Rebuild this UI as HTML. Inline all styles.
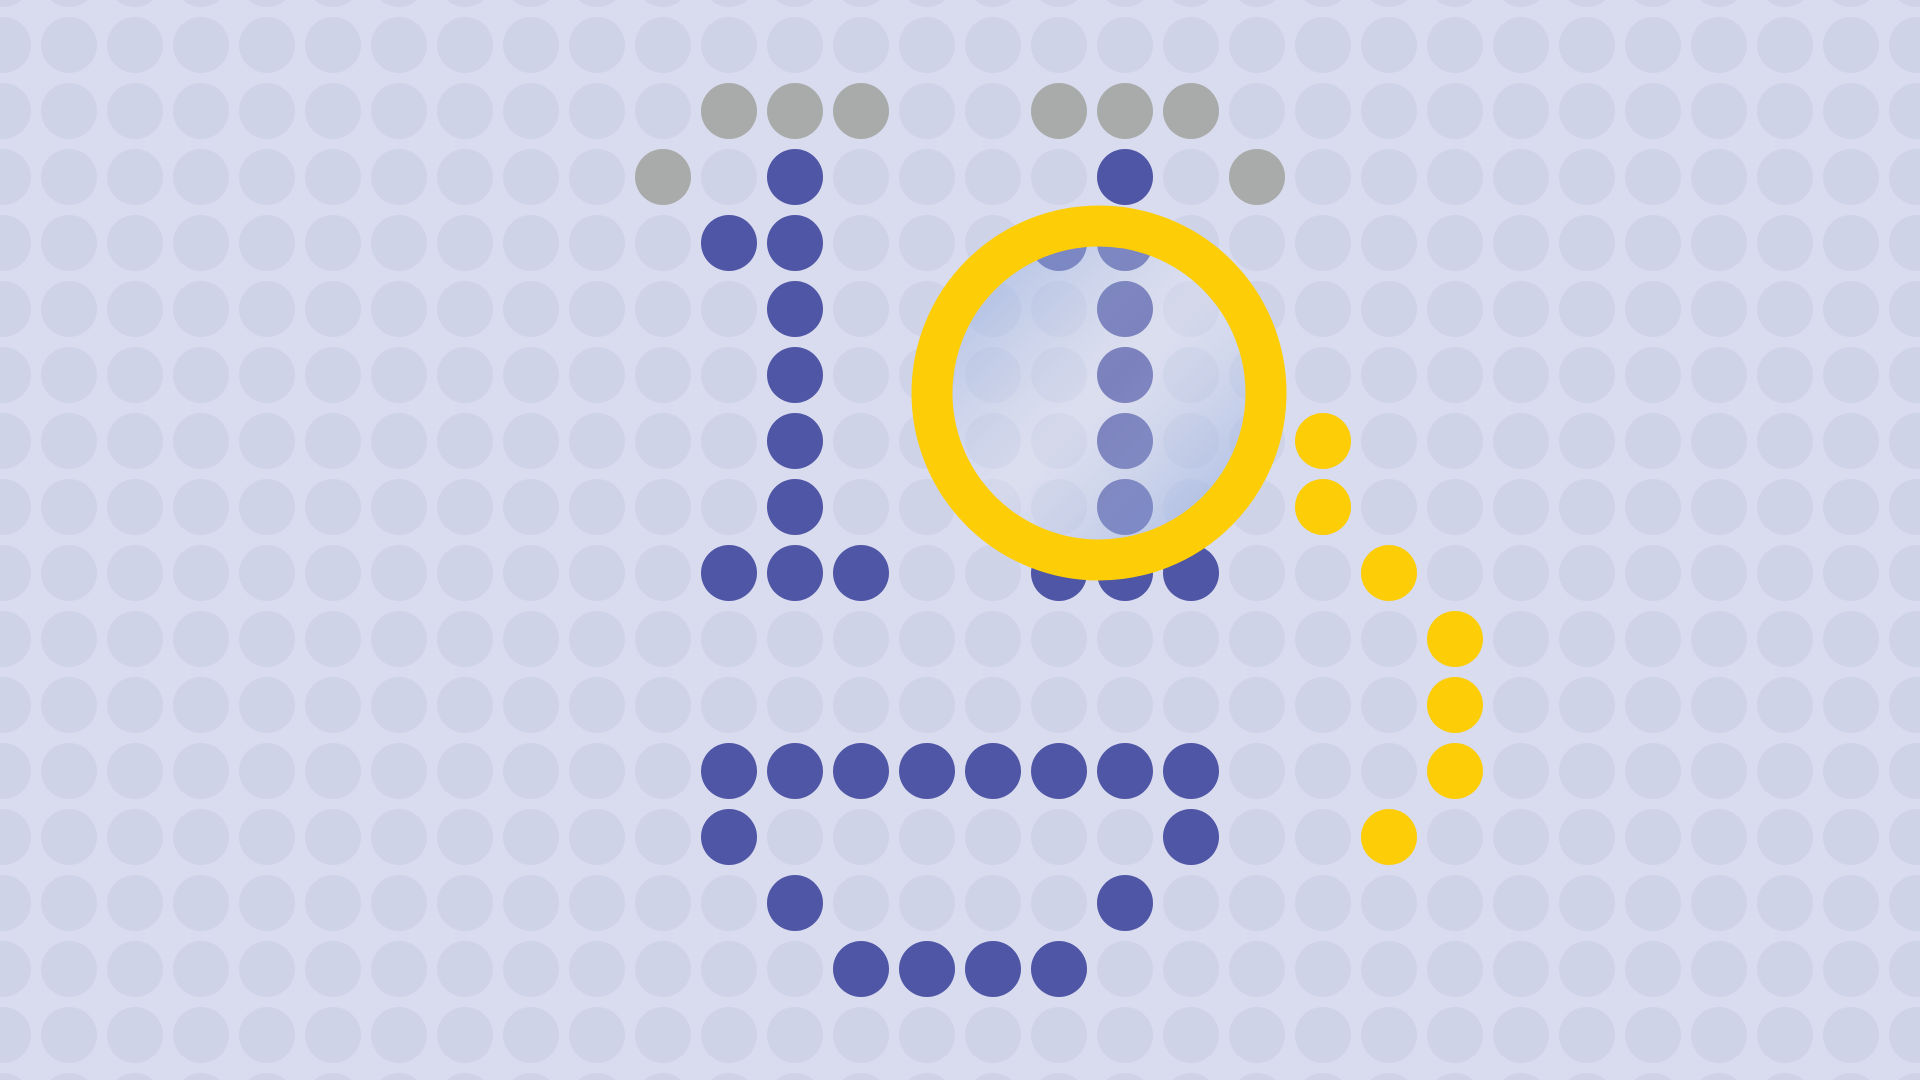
<!DOCTYPE html>
<html><head><meta charset="utf-8"><style>
html,body{margin:0;padding:0;background:#d9dcee;overflow:hidden}
svg{display:block}
</style></head><body>
<svg id="chart" width="1920" height="1080" viewBox="0 0 1920 1080" xmlns="http://www.w3.org/2000/svg">
<defs>
<linearGradient id="lensGrad" x1="0" y1="0" x2="1" y2="1">
<stop offset="0" stop-color="#86a3db" stop-opacity="0.6"/>
<stop offset="0.5" stop-color="#e2e4f0" stop-opacity="0.3"/>
<stop offset="1" stop-color="#86a3db" stop-opacity="0.65"/>
</linearGradient>
</defs>
<rect x="0" y="0" width="1920" height="1080" fill="#d9dcee"/>
<g id="bgDots"></g>
<g id="marks"></g>
<g id="lens"></g>
</svg>
<script>
const greyCols=[11,12,13,16,17,18,10,19];
const greyRows=[1,1,1,1,1,1,2,2];
const blueCols=[12,11,12,12,12,12,12,11,12,13, 17,16,17,17,17,17,17,16,17,18, 11,12,13,14,15,16,17,18,11,18,12,17,13,14,15,16];
const blueRows=[2,3,3,4,5,6,7,8,8,8, 2,3,3,4,5,6,7,8,8,8, 11,11,11,11,11,11,11,11,12,12,13,13,14,14,14,14];
const yellowCols=[20,20,21,22,22,22,21];
const yellowRows=[6,7,8,9,10,11,12];
const NS="http://www.w3.org/2000/svg";
const X=c=>3+66*c, Y=r=>45+66*r, R=28;
function dot(g,c,r,fill,name){
  const e=document.createElementNS(NS,'circle');
  e.setAttribute('cx',X(c));e.setAttribute('cy',Y(r));e.setAttribute('r',R);e.setAttribute('fill',fill);
  
  
  g.appendChild(e);
}
const bg=document.getElementById('bgDots');
for(let r=-1;r<=16;r++)for(let c=0;c<=29;c++)dot(bg,c,r,'#ced3e8','grid-dot');
const mk=document.getElementById('marks');
greyCols.forEach((c,i)=>dot(mk,c,greyRows[i],'#a9abaa','grey-dot'));
blueCols.forEach((c,i)=>dot(mk,c,blueRows[i],'#4f56a6','blue-dot'));
yellowCols.forEach((c,i)=>dot(mk,c,yellowRows[i],'#fdcd07','yellow-dot'));
const lens=document.getElementById('lens');
const glass=document.createElementNS(NS,'circle');
glass.setAttribute('cx',1099);glass.setAttribute('cy',393);glass.setAttribute('r',147);glass.setAttribute('fill','url(#lensGrad)');


lens.appendChild(glass);
const ring=document.createElementNS(NS,'circle');
ring.setAttribute('cx',1099);ring.setAttribute('cy',393);ring.setAttribute('r',167);ring.setAttribute('fill','none');ring.setAttribute('stroke','#fdcd07');ring.setAttribute('stroke-width',41);


lens.appendChild(ring);
</script>
</body></html>
